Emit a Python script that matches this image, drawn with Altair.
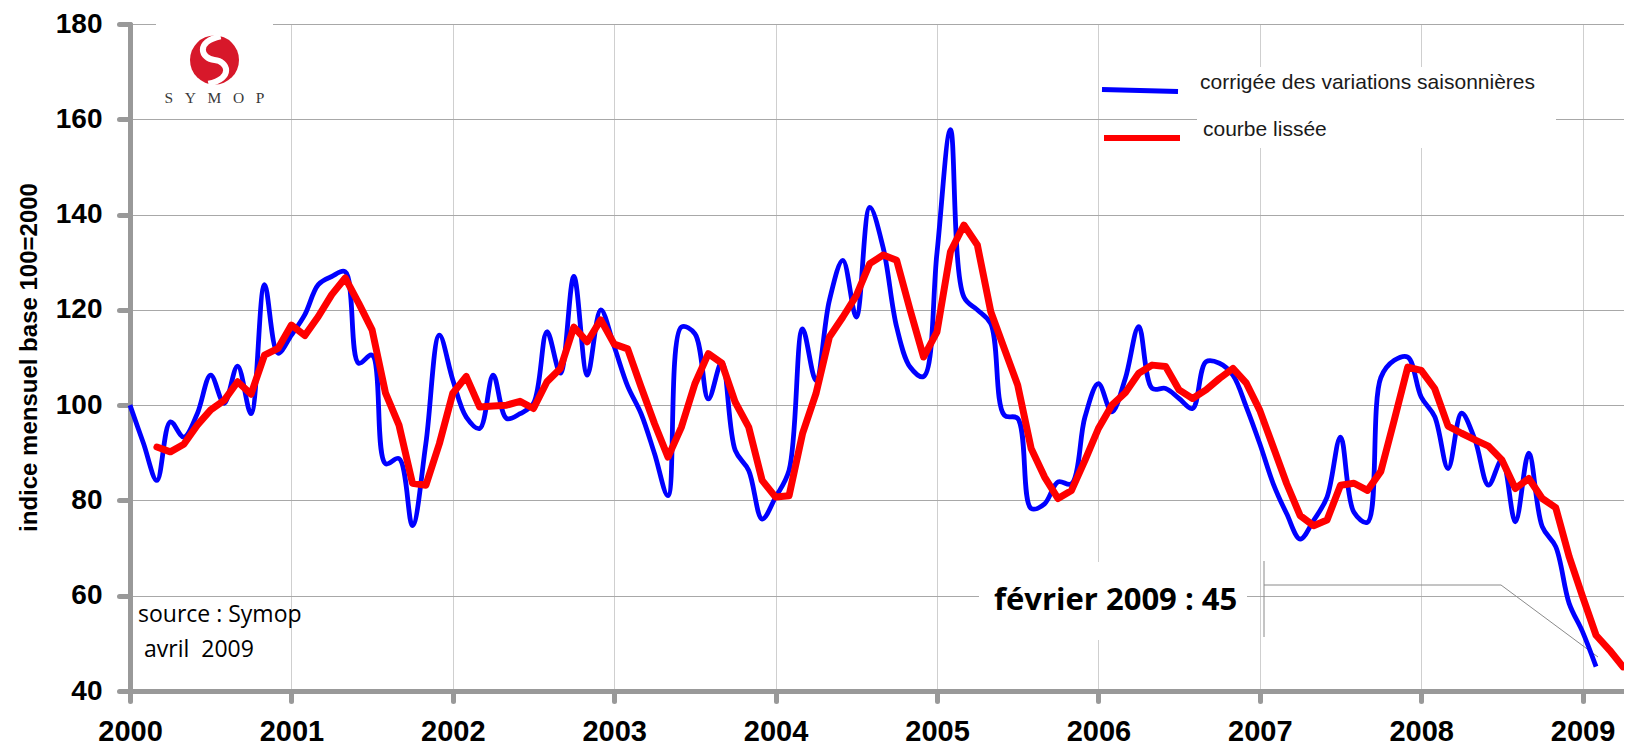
import altair as alt
import pandas as pd

# ---------------- data ----------------
blue_label = "corrigée des variations saisonnières"
red_label = "courbe lissée"

blue_start = 0  # janvier 2000
blue_values = [
    100, 92, 84.2, 96.5, 93.3, 98.2, 106.3, 100.4, 108.2, 98.2, 125.3, 110.9,
    114.7, 119, 125.3, 127, 128, 108.8, 110.5, 87.7, 88.8, 74.7, 92, 114.7,
    105.3, 97.5, 95.1, 106.3, 97.2, 98.2, 100.4, 115.4, 106.7, 127, 106.3, 120,
    112.3, 104, 98.2, 89.8, 81, 116.4, 115, 101.3, 109, 90.5, 86.3, 76.1,
    80.7, 86.3, 116, 105.2, 122, 130.4, 118.5, 141.5, 133, 116.4, 108, 106,
    132, 157.8, 122.7, 120, 117.1, 97.9, 97.2, 78.3, 79.3, 83.9, 83.5, 97.5,
    104.5, 98.6, 105.6, 116.5, 103.5, 103.5, 101.4, 99.3, 109.1, 108.8, 106.3, 99.6,
    91.9, 83.5, 77.2, 71.9, 75.8, 80.7, 93.3, 77.5, 75.4, 105.8, 109.4, 110.1,
    101.7, 97.6, 86.7, 98.3, 92.7, 83.2, 88.5, 75.5, 89.9, 74.5, 70.3, 58.4,
    52.4, 45.1,
]

red_start = 2  # mars 2000
red_values = [
    91.2, 90.2, 91.8, 95.8, 99, 101, 104.9, 102.3, 110.5, 111.9,
    116.8, 114.6, 118.6, 123.2, 126.7, 121.4, 115.8, 102.5, 95.8, 83.6, 83.2, 91.9,
    102.5, 106, 99.6, 99.8, 100, 100.8, 99.3, 104.9, 107.7, 116.4, 113.3, 117.9,
    112.8, 111.8, 103.8, 96.1, 89.1, 95.4, 104.5, 110.8, 108.8, 100.6, 95.4, 84.2,
    80.7, 81, 94, 102.4, 114.3, 118.5, 123, 129.7, 131.5, 130.4, 120, 110.1,
    115.4, 132.2, 137.8, 133.6, 119.6, 111.9, 104.2, 90.9, 84.9, 80.4, 82.1, 88.4,
    95.1, 100, 102.6, 106.7, 108.4, 108.1, 103.2, 101.4, 103.2, 105.6, 107.7, 104.6,
    98.9, 91.2, 83.5, 76.8, 74.7, 75.9, 83.2, 83.6, 82.1, 86.1, 96.9, 108,
    107.3, 103.5, 95.6, 94.1, 92.7, 91.4, 88.5, 82.5, 84.6, 80.4, 78.5, 68.2,
    59.8, 51.7, 48.6, 45.1,
]

year_ticks = list(range(2000, 2010))
y_ticks = list(range(40, 181, 20))

y_title = "indice mensuel base 100=2000"
source_lines = ["source : Symop", "avril\u00a0\u00a02009"]
annotation_text = "février 2009 : 45"
logo_text = "S\u00a0\u00a0\u00a0Y\u00a0\u00a0\u00a0M\u00a0\u00a0\u00a0O\u00a0\u00a0\u00a0P"


def frame(start, values, label):
    return pd.DataFrame({
        "t": [2000 + (start + i) / 12 for i in range(len(values))],
        "v": values,
        "s": label,
    })


blue_df = frame(blue_start, blue_values, blue_label)
red_df = frame(red_start, red_values, red_label)

# ---------------- layout ----------------
W, H = 1494, 667
PX_PER_YEAR = 161.4
FONT = "Liberation Sans"

x_scale = alt.Scale(domain=[2000, 2000 + W / PX_PER_YEAR], nice=False, zero=False)
y_scale = alt.Scale(domain=[40, 180], nice=False, zero=False)

x_axis = alt.Axis(
    values=year_ticks, format="d", title=None,
    labelFont=FONT, labelFontWeight="bold", labelFontSize=29, labelColor="black",
    labelPadding=16, labelFlush=False, labelOverlap=False, labelBaseline="top",
    tickSize=10, tickWidth=5, tickColor="#999999", tickCap="round",
    domainColor="#999999", domainWidth=5, domainCap="round",
    gridColor="#cfcfcf", gridWidth=1,
)
y_axis = alt.Axis(
    values=y_ticks, title=y_title,
    titleFont=FONT, titleFontWeight="bold", titleFontSize=24, titleColor="black",
    titleX=-101, titleY=333, titleAngle=270, titleAlign="center", titleBaseline="middle",
    labelFont=FONT, labelFontWeight="bold", labelFontSize=28, labelColor="black",
    labelPadding=17, labelFlush=False, labelOverlap=False,
    tickSize=11, tickWidth=5, tickColor="#999999", tickCap="round",
    domainColor="#999999", domainWidth=5, domainCap="round",
    gridColor="#a8a8a8", gridWidth=1,
)

one = pd.DataFrame({"k": [0]})

# white backgrounds (logo, legend text, annotation)
bg_logo = alt.Chart(one).mark_rect(color="white").encode(
    x=alt.value(26), x2=alt.value(143), y=alt.value(-1), y2=alt.value(87))
bg_legend = alt.Chart(one).mark_rect(color="white").encode(
    x=alt.value(1067), x2=alt.value(1426), y=alt.value(43), y2=alt.value(124))
bg_annot = alt.Chart(one).mark_rect(color="white").encode(
    x=alt.value(849), x2=alt.value(1117), y=alt.value(538), y2=alt.value(616))

# callout lines
call1 = alt.Chart(one).mark_rule(color="#8a8a8a", strokeWidth=1).encode(
    x=alt.value(1134), y=alt.value(537), y2=alt.value(613))
call2 = alt.Chart(one).mark_rule(color="#8a8a8a", strokeWidth=1).encode(
    x=alt.value(1134), x2=alt.value(1371), y=alt.value(561))
call3 = alt.Chart(one).mark_rule(color="#8a8a8a", strokeWidth=1).encode(
    x=alt.value(1371), x2=alt.value(1468), y=alt.value(561), y2=alt.value(633))

blue_line = alt.Chart(blue_df).mark_line(
    interpolate="catmull-rom", color="#0000ff", strokeWidth=4.8, strokeJoin="round"
).encode(
    x=alt.X("t:Q", scale=x_scale, axis=x_axis),
    y=alt.Y("v:Q", scale=y_scale, axis=y_axis),
)
red_line = alt.Chart(red_df).mark_line(
    color="#ff0000", strokeWidth=7, strokeJoin="round", strokeCap="round"
).encode(
    x=alt.X("t:Q", scale=x_scale, axis=x_axis),
    y=alt.Y("v:Q", scale=y_scale, axis=y_axis),
)

# manual legend
leg_blue = alt.Chart(one).mark_rule(color="#0000ff", strokeWidth=5).encode(
    x=alt.value(972), x2=alt.value(1048), y=alt.value(65.5), y2=alt.value(67.5))
leg_red = alt.Chart(one).mark_rule(color="#ff0000", strokeWidth=6).encode(
    x=alt.value(974), x2=alt.value(1050), y=alt.value(114), y2=alt.value(114))
leg_t1 = alt.Chart(one).mark_text(
    text=blue_label, font=FONT, fontSize=21, color="#1a1a1a", align="left", baseline="middle"
).encode(x=alt.value(1070), y=alt.value(59))
leg_t2 = alt.Chart(one).mark_text(
    text=red_label, font=FONT, fontSize=21, color="#1a1a1a", align="left", baseline="middle"
).encode(x=alt.value(1073), y=alt.value(106))

# logo
logo_disc = alt.Chart(one).mark_point(
    shape="circle", filled=True, fill="#d7182a", stroke=None, opacity=1, size=2401
).encode(x=alt.value(84.5), y=alt.value(36))
logo_s = alt.Chart(one).mark_point(
    shape="M 0.25 -0.97 C -0.8 -0.75 -0.55 -0.05 0 0 C 0.55 0.05 0.8 0.75 -0.25 0.97",
    filled=False, stroke="white", strokeWidth=6, opacity=1, size=2401
).encode(x=alt.value(84.5), y=alt.value(36))
logo_word = alt.Chart(one).mark_text(
    text=logo_text, font="Liberation Serif", fontSize=15.5, color="#3a3a3a",
    align="center", baseline="middle"
).encode(x=alt.value(84.5), y=alt.value(73.5))

# texts
src1 = alt.Chart(one).mark_text(
    text=source_lines[0], font="Open Sans", fontSize=23, color="black",
    align="left", baseline="middle"
).encode(x=alt.value(8), y=alt.value(591))
src2 = alt.Chart(one).mark_text(
    text=source_lines[1], font="Open Sans", fontSize=23, color="black",
    align="left", baseline="middle"
).encode(x=alt.value(14), y=alt.value(626))
annot = alt.Chart(one).mark_text(
    text=annotation_text, font="Open Sans", fontWeight="bold", fontSize=31, color="black",
    align="left", baseline="middle"
).encode(x=alt.value(864), y=alt.value(577))

chart = alt.layer(
    bg_logo, bg_legend, bg_annot, call1, call2, call3,
    blue_line, red_line,
    leg_blue, leg_red, leg_t1, leg_t2,
    logo_disc, logo_s, logo_word,
    src1, src2, annot,
).properties(
    width=W, height=H,
    autosize=alt.AutoSizeParams(type="none"),
    padding={"left": 122, "top": 16, "right": 0, "bottom": 54},
    background="white",
).configure_view(stroke=None)

chart.save("out.html", embed_options={"renderer": "svg", "actions": False})
